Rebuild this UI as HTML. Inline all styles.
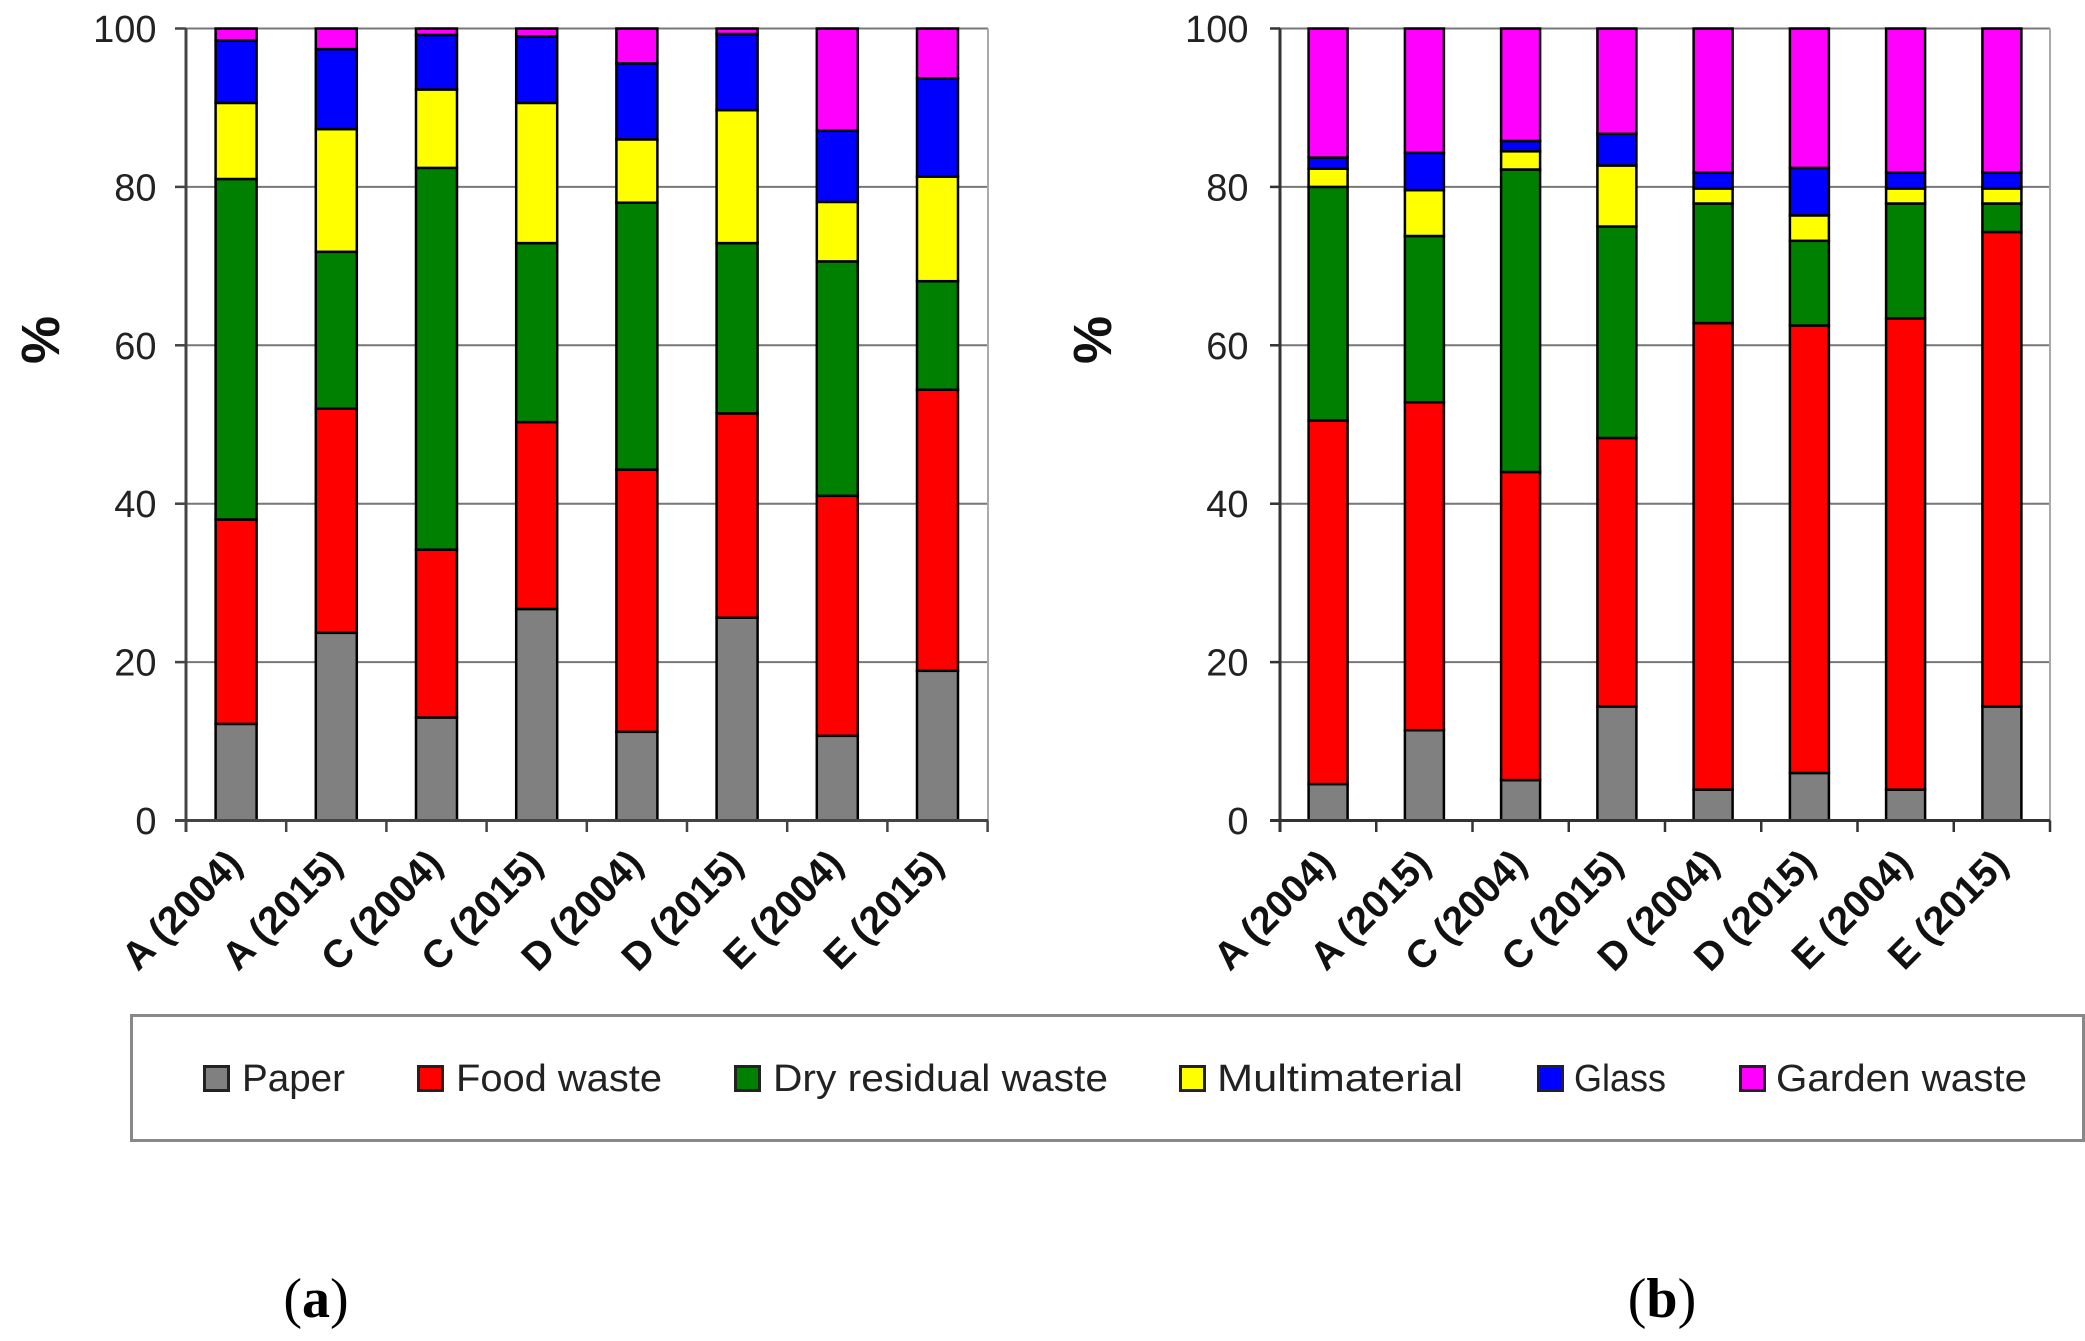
<!DOCTYPE html>
<html>
<head>
<meta charset="utf-8">
<style>
  html,body{margin:0;padding:0;background:#fff;}
  svg{display:block;}
  .tl{font-family:"Liberation Sans",Arial,sans-serif;font-size:38px;fill:#222;text-anchor:end;}
  .xl{font-family:"Liberation Sans",Arial,sans-serif;font-size:39px;font-weight:bold;fill:#111;text-anchor:end;}
  .pc{font-family:"Liberation Sans",Arial,sans-serif;font-size:54px;font-weight:bold;fill:#111;text-anchor:middle;}
  .lg{font-family:"Liberation Sans",Arial,sans-serif;font-size:38px;fill:#222;}
  .cap{font-family:"Liberation Serif","Times New Roman",serif;font-size:56px;fill:#000;text-anchor:middle;}
  .g{stroke:#777;stroke-width:2;}
  .b rect{stroke:#000;stroke-width:2.5;}
</style>
</head>
<body>
<svg width="2085" height="1341" viewBox="0 0 2085 1341" xmlns="http://www.w3.org/2000/svg">
<rect x="0" y="0" width="2085" height="1341" fill="#fff"/>

<!-- ===== LEFT CHART ===== -->
<g class="g">
  <line x1="175" y1="820.5" x2="988" y2="820.5"/>
  <line x1="175" y1="662.1" x2="988" y2="662.1"/>
  <line x1="175" y1="503.7" x2="988" y2="503.7"/>
  <line x1="175" y1="345.3" x2="988" y2="345.3"/>
  <line x1="175" y1="186.9" x2="988" y2="186.9"/>
  <line x1="175" y1="28.5" x2="988" y2="28.5"/>
</g>
<line x1="988" y1="28.5" x2="988" y2="820.5" stroke="#aaa" stroke-width="2"/>

<g class="b">
  <rect x="215.6" y="723.9" width="41" height="96.6" fill="#808080"/>
  <rect x="215.6" y="519.5" width="41" height="204.4" fill="#ff0000"/>
  <rect x="215.6" y="179.0" width="41" height="340.5" fill="#008000"/>
  <rect x="215.6" y="102.9" width="41" height="76.1" fill="#ffff00"/>
  <rect x="215.6" y="40.4" width="41" height="62.5" fill="#0000ff"/>
  <rect x="215.6" y="28.5" width="41" height="11.9" fill="#ff00ff"/>
  <rect x="315.8" y="632.8" width="41" height="187.7" fill="#808080"/>
  <rect x="315.8" y="408.7" width="41" height="224.1" fill="#ff0000"/>
  <rect x="315.8" y="251.8" width="41" height="156.9" fill="#008000"/>
  <rect x="315.8" y="129.1" width="41" height="122.7" fill="#ffff00"/>
  <rect x="315.8" y="49.1" width="41" height="80.0" fill="#0000ff"/>
  <rect x="315.8" y="28.5" width="41" height="20.6" fill="#ff00ff"/>
  <rect x="416.0" y="717.5" width="41" height="103" fill="#808080"/>
  <rect x="416.0" y="549.6" width="41" height="167.9" fill="#ff0000"/>
  <rect x="416.0" y="167.9" width="41" height="381.7" fill="#008000"/>
  <rect x="416.0" y="89.5" width="41" height="78.4" fill="#ffff00"/>
  <rect x="416.0" y="34.9" width="41" height="54.6" fill="#0000ff"/>
  <rect x="416.0" y="28.5" width="41" height="6.4" fill="#ff00ff"/>
  <rect x="516.2" y="609.0" width="41" height="211.5" fill="#808080"/>
  <rect x="516.2" y="422.1" width="41" height="186.9" fill="#ff0000"/>
  <rect x="516.2" y="243.1" width="41" height="179" fill="#008000"/>
  <rect x="516.2" y="102.9" width="41" height="140.2" fill="#ffff00"/>
  <rect x="516.2" y="36.4" width="41" height="66.5" fill="#0000ff"/>
  <rect x="516.2" y="28.5" width="41" height="7.9" fill="#ff00ff"/>
  <rect x="616.4" y="731.8" width="41" height="88.7" fill="#808080"/>
  <rect x="616.4" y="469.6" width="41" height="262.2" fill="#ff0000"/>
  <rect x="616.4" y="202.7" width="41" height="266.9" fill="#008000"/>
  <rect x="616.4" y="139.4" width="41" height="63.3" fill="#ffff00"/>
  <rect x="616.4" y="63.4" width="41" height="76" fill="#0000ff"/>
  <rect x="616.4" y="28.5" width="41" height="34.9" fill="#ff00ff"/>
  <rect x="716.6" y="617.7" width="41" height="202.8" fill="#808080"/>
  <rect x="716.6" y="413.4" width="41" height="204.3" fill="#ff0000"/>
  <rect x="716.6" y="243.1" width="41" height="170.3" fill="#008000"/>
  <rect x="716.6" y="110.1" width="41" height="133" fill="#ffff00"/>
  <rect x="716.6" y="34.0" width="41" height="76.1" fill="#0000ff"/>
  <rect x="716.6" y="28.5" width="41" height="5.5" fill="#ff00ff"/>
  <rect x="816.8" y="735.8" width="41" height="84.7" fill="#808080"/>
  <rect x="816.8" y="495.8" width="41" height="240" fill="#ff0000"/>
  <rect x="816.8" y="261.4" width="41" height="234.4" fill="#008000"/>
  <rect x="816.8" y="201.9" width="41" height="59.5" fill="#ffff00"/>
  <rect x="816.8" y="130.7" width="41" height="71.2" fill="#0000ff"/>
  <rect x="816.8" y="28.5" width="41" height="102.2" fill="#ff00ff"/>
  <rect x="917.0" y="670.8" width="41" height="149.7" fill="#808080"/>
  <rect x="917.0" y="389.7" width="41" height="281.1" fill="#ff0000"/>
  <rect x="917.0" y="281.2" width="41" height="108.5" fill="#008000"/>
  <rect x="917.0" y="176.6" width="41" height="104.6" fill="#ffff00"/>
  <rect x="917.0" y="78.4" width="41" height="98.2" fill="#0000ff"/>
  <rect x="917.0" y="28.5" width="41" height="49.9" fill="#ff00ff"/>
</g>

<line x1="186" y1="28.5" x2="186" y2="832" stroke="#444" stroke-width="3"/>
<line x1="175" y1="820.5" x2="988" y2="820.5" stroke="#444" stroke-width="3"/>
<g stroke="#444" stroke-width="2.5">
  <line x1="175" y1="662.1" x2="186" y2="662.1"/>
  <line x1="175" y1="503.7" x2="186" y2="503.7"/>
  <line x1="175" y1="345.3" x2="186" y2="345.3"/>
  <line x1="175" y1="186.9" x2="186" y2="186.9"/>
  <line x1="175" y1="28.5" x2="186" y2="28.5"/>
  <line x1="286.2" y1="820.5" x2="286.2" y2="832"/>
  <line x1="386.4" y1="820.5" x2="386.4" y2="832"/>
  <line x1="486.6" y1="820.5" x2="486.6" y2="832"/>
  <line x1="586.8" y1="820.5" x2="586.8" y2="832"/>
  <line x1="687.0" y1="820.5" x2="687.0" y2="832"/>
  <line x1="787.2" y1="820.5" x2="787.2" y2="832"/>
  <line x1="887.4" y1="820.5" x2="887.4" y2="832"/>
  <line x1="987.6" y1="820.5" x2="987.6" y2="832"/>
</g>

<text class="tl" x="156.5" y="834">0</text>
<text class="tl" x="156.5" y="675.6">20</text>
<text class="tl" x="156.5" y="517.2">40</text>
<text class="tl" x="156.5" y="358.8">60</text>
<text class="tl" x="156.5" y="200.4">80</text>
<text class="tl" x="156.5" y="42">100</text>

<text class="pc" transform="translate(59,340) rotate(-90)">%</text>

<text class="xl" transform="translate(244.1,866) rotate(-45)">A (2004)</text>
<text class="xl" transform="translate(344.3,866) rotate(-45)">A (2015)</text>
<text class="xl" transform="translate(444.5,866) rotate(-45)">C (2004)</text>
<text class="xl" transform="translate(544.7,866) rotate(-45)">C (2015)</text>
<text class="xl" transform="translate(644.9,866) rotate(-45)">D (2004)</text>
<text class="xl" transform="translate(745.1,866) rotate(-45)">D (2015)</text>
<text class="xl" transform="translate(845.3,866) rotate(-45)">E (2004)</text>
<text class="xl" transform="translate(945.5,866) rotate(-45)">E (2015)</text>

<!-- ===== RIGHT CHART ===== -->
<g class="g">
  <line x1="1270" y1="820.5" x2="2050" y2="820.5"/>
  <line x1="1270" y1="662.1" x2="2050" y2="662.1"/>
  <line x1="1270" y1="503.7" x2="2050" y2="503.7"/>
  <line x1="1270" y1="345.3" x2="2050" y2="345.3"/>
  <line x1="1270" y1="186.9" x2="2050" y2="186.9"/>
  <line x1="1270" y1="28.5" x2="2050" y2="28.5"/>
</g>
<line x1="2050" y1="28.5" x2="2050" y2="820.5" stroke="#aaa" stroke-width="2"/>

<g class="b">
  <rect x="1308.6" y="784.1" width="39" height="36.4" fill="#808080"/>
  <rect x="1308.6" y="420.5" width="39" height="363.6" fill="#ff0000"/>
  <rect x="1308.6" y="186.9" width="39" height="233.6" fill="#008000"/>
  <rect x="1308.6" y="168.7" width="39" height="18.2" fill="#ffff00"/>
  <rect x="1308.6" y="157.6" width="39" height="11.1" fill="#0000ff"/>
  <rect x="1308.6" y="28.5" width="39" height="129.1" fill="#ff00ff"/>
  <rect x="1404.9" y="730.2" width="39" height="90.3" fill="#808080"/>
  <rect x="1404.9" y="402.3" width="39" height="327.9" fill="#ff0000"/>
  <rect x="1404.9" y="236.0" width="39" height="166.3" fill="#008000"/>
  <rect x="1404.9" y="190.1" width="39" height="45.9" fill="#ffff00"/>
  <rect x="1404.9" y="152.8" width="39" height="37.3" fill="#0000ff"/>
  <rect x="1404.9" y="28.5" width="39" height="124.3" fill="#ff00ff"/>
  <rect x="1501.1" y="780.1" width="39" height="40.4" fill="#808080"/>
  <rect x="1501.1" y="472.0" width="39" height="308.1" fill="#ff0000"/>
  <rect x="1501.1" y="169.5" width="39" height="302.5" fill="#008000"/>
  <rect x="1501.1" y="151.3" width="39" height="18.2" fill="#ffff00"/>
  <rect x="1501.1" y="141.0" width="39" height="10.3" fill="#0000ff"/>
  <rect x="1501.1" y="28.5" width="39" height="112.5" fill="#ff00ff"/>
  <rect x="1597.4" y="706.5" width="39" height="114" fill="#808080"/>
  <rect x="1597.4" y="438.0" width="39" height="268.5" fill="#ff0000"/>
  <rect x="1597.4" y="226.5" width="39" height="211.5" fill="#008000"/>
  <rect x="1597.4" y="165.5" width="39" height="61" fill="#ffff00"/>
  <rect x="1597.4" y="133.8" width="39" height="31.7" fill="#0000ff"/>
  <rect x="1597.4" y="28.5" width="39" height="105.3" fill="#ff00ff"/>
  <rect x="1693.6" y="789.6" width="39" height="30.9" fill="#808080"/>
  <rect x="1693.6" y="323.1" width="39" height="466.5" fill="#ff0000"/>
  <rect x="1693.6" y="203.5" width="39" height="119.6" fill="#008000"/>
  <rect x="1693.6" y="188.5" width="39" height="15" fill="#ffff00"/>
  <rect x="1693.6" y="172.6" width="39" height="15.9" fill="#0000ff"/>
  <rect x="1693.6" y="28.5" width="39" height="144.1" fill="#ff00ff"/>
  <rect x="1789.9" y="773.0" width="39" height="47.5" fill="#808080"/>
  <rect x="1789.9" y="325.5" width="39" height="447.5" fill="#ff0000"/>
  <rect x="1789.9" y="240.8" width="39" height="84.7" fill="#008000"/>
  <rect x="1789.9" y="215.4" width="39" height="25.4" fill="#ffff00"/>
  <rect x="1789.9" y="167.9" width="39" height="47.5" fill="#0000ff"/>
  <rect x="1789.9" y="28.5" width="39" height="139.4" fill="#ff00ff"/>
  <rect x="1886.1" y="789.6" width="39" height="30.9" fill="#808080"/>
  <rect x="1886.1" y="318.4" width="39" height="471.2" fill="#ff0000"/>
  <rect x="1886.1" y="203.5" width="39" height="114.9" fill="#008000"/>
  <rect x="1886.1" y="188.5" width="39" height="15" fill="#ffff00"/>
  <rect x="1886.1" y="172.6" width="39" height="15.9" fill="#0000ff"/>
  <rect x="1886.1" y="28.5" width="39" height="144.1" fill="#ff00ff"/>
  <rect x="1982.4" y="706.5" width="39" height="114" fill="#808080"/>
  <rect x="1982.4" y="232.0" width="39" height="474.5" fill="#ff0000"/>
  <rect x="1982.4" y="203.5" width="39" height="28.5" fill="#008000"/>
  <rect x="1982.4" y="188.5" width="39" height="15" fill="#ffff00"/>
  <rect x="1982.4" y="172.6" width="39" height="15.9" fill="#0000ff"/>
  <rect x="1982.4" y="28.5" width="39" height="144.1" fill="#ff00ff"/>
</g>

<line x1="1280" y1="28.5" x2="1280" y2="832" stroke="#333" stroke-width="3"/>
<line x1="1270" y1="820.5" x2="2050" y2="820.5" stroke="#333" stroke-width="3"/>
<g stroke="#333" stroke-width="2.5">
  <line x1="1270" y1="662.1" x2="1280" y2="662.1"/>
  <line x1="1270" y1="503.7" x2="1280" y2="503.7"/>
  <line x1="1270" y1="345.3" x2="1280" y2="345.3"/>
  <line x1="1270" y1="186.9" x2="1280" y2="186.9"/>
  <line x1="1270" y1="28.5" x2="1280" y2="28.5"/>
  <line x1="1376.25" y1="820.5" x2="1376.25" y2="832"/>
  <line x1="1472.5" y1="820.5" x2="1472.5" y2="832"/>
  <line x1="1568.75" y1="820.5" x2="1568.75" y2="832"/>
  <line x1="1665" y1="820.5" x2="1665" y2="832"/>
  <line x1="1761.25" y1="820.5" x2="1761.25" y2="832"/>
  <line x1="1857.5" y1="820.5" x2="1857.5" y2="832"/>
  <line x1="1953.75" y1="820.5" x2="1953.75" y2="832"/>
  <line x1="2050" y1="820.5" x2="2050" y2="832"/>
</g>

<text class="tl" x="1248.5" y="834">0</text>
<text class="tl" x="1248.5" y="675.6">20</text>
<text class="tl" x="1248.5" y="517.2">40</text>
<text class="tl" x="1248.5" y="358.8">60</text>
<text class="tl" x="1248.5" y="200.4">80</text>
<text class="tl" x="1248.5" y="42">100</text>

<text class="pc" transform="translate(1111,340) rotate(-90)">%</text>

<text class="xl" transform="translate(1336.1,866) rotate(-45)">A (2004)</text>
<text class="xl" transform="translate(1432.4,866) rotate(-45)">A (2015)</text>
<text class="xl" transform="translate(1528.6,866) rotate(-45)">C (2004)</text>
<text class="xl" transform="translate(1624.9,866) rotate(-45)">C (2015)</text>
<text class="xl" transform="translate(1721.1,866) rotate(-45)">D (2004)</text>
<text class="xl" transform="translate(1817.4,866) rotate(-45)">D (2015)</text>
<text class="xl" transform="translate(1913.6,866) rotate(-45)">E (2004)</text>
<text class="xl" transform="translate(2009.9,866) rotate(-45)">E (2015)</text>

<!-- ===== LEGEND ===== -->
<rect x="131.5" y="1015.5" width="1952" height="125" fill="none" stroke="#888" stroke-width="3"/>
<g stroke="#222" stroke-width="3">
  <rect x="204.5" y="1066.5" width="24" height="24" fill="#808080"/>
  <rect x="418.5" y="1066.5" width="24" height="24" fill="#ff0000"/>
  <rect x="735.5" y="1066.5" width="24" height="24" fill="#008000"/>
  <rect x="1180.5" y="1066.5" width="24" height="24" fill="#ffff00"/>
  <rect x="1538.5" y="1066.5" width="24" height="24" fill="#0000ff"/>
  <rect x="1740.5" y="1066.5" width="24" height="24" fill="#ff00ff"/>
</g>
<text class="lg" x="242" y="1091" textLength="103" lengthAdjust="spacingAndGlyphs">Paper</text>
<text class="lg" x="456" y="1091" textLength="206" lengthAdjust="spacingAndGlyphs">Food waste</text>
<text class="lg" x="773" y="1091" textLength="335" lengthAdjust="spacingAndGlyphs">Dry residual waste</text>
<text class="lg" x="1217" y="1091" textLength="246" lengthAdjust="spacingAndGlyphs">Multimaterial</text>
<text class="lg" x="1574" y="1091" textLength="92" lengthAdjust="spacingAndGlyphs">Glass</text>
<text class="lg" x="1776" y="1091" textLength="251" lengthAdjust="spacingAndGlyphs">Garden waste</text>

<!-- ===== CAPTIONS ===== -->
<text class="cap" x="316" y="1317">(<tspan font-weight="bold">a</tspan>)</text>
<text class="cap" x="1662" y="1317">(<tspan font-weight="bold">b</tspan>)</text>
</svg>
</body>
</html>
